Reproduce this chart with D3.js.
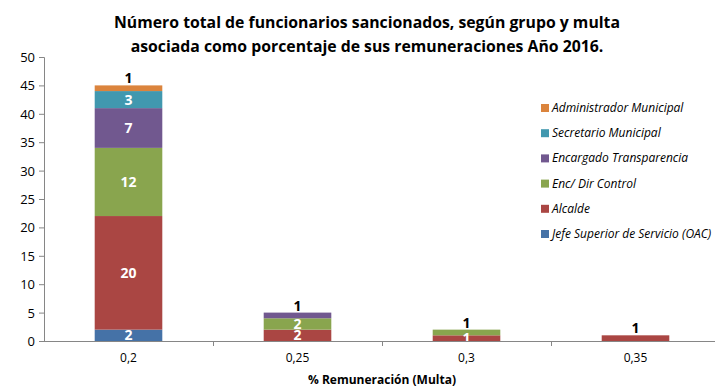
<!DOCTYPE html>
<html><head><meta charset="utf-8">
<script src="https://cdn.jsdelivr.net/npm/d3@7"></script>
<style>body{margin:0;background:#fff;}text{font-family:"Open Sans","Liberation Sans",sans-serif;}</style>
</head><body>
<svg id="c" width="715" height="388"></svg>
<script>
const categories = ["0,2", "0,25", "0,3", "0,35"];
const seriesNames = ["Jefe Superior de Servicio (OAC)", "Alcalde", "Enc/ Dir Control", "Encargado Transparencia", "Secretario Municipal", "Administrador Municipal"];
const jefe = [2, 0, 0, 0];
const alcalde = [20, 2, 1, 1];
const control = [12, 2, 1, 0];
const transparencia = [7, 1, 0, 0];
const secretario = [3, 0, 0, 0];
const administrador = [1, 0, 0, 0];
const colors = ["#4572A7", "#AA4643", "#89A54E", "#71588F", "#4198AF", "#DB843D"];
const yTicks = [0, 5, 10, 15, 20, 25, 30, 35, 40, 45, 50];
const titleLines = ["Número total de funcionarios sancionados, según grupo y multa", "asociada como porcentaje de sus remuneraciones Año 2016."];
const xTitle = "% Remuneración (Multa)";

const seriesValues = [jefe, alcalde, control, transparencia, secretario, administrador];
const rows = categories.map((c, i) => {
  const r = {cat: c};
  seriesNames.forEach((s, j) => r[s] = seriesValues[j][i]);
  return r;
});
const stack = d3.stack().keys(seriesNames)(rows);

const svg = d3.select("#c");
const x = d3.scaleBand().domain(categories).range([44, 720]).paddingInner(0.6).paddingOuter(0.3);
const y = d3.scaleLinear().domain([0, 50]).range([341, 57]);
const band = d3.scaleBand().domain(categories).range([44, 720]);

// title
svg.append("g").selectAll("text").data(titleLines).join("text")
  .attr("x", 367).attr("y", (d, i) => 28 + i * 24)
  .attr("text-anchor", "middle").attr("font-size", 15.8).attr("font-weight", "bold").attr("fill", "#000")
  .text(d => d);

// bars
const g = svg.append("g");
stack.forEach((s, j) => {
  g.selectAll(null).data(s.filter(d => d[1] > d[0])).join("rect")
    .attr("x", d => x(d.data.cat)).attr("width", x.bandwidth())
    .attr("y", d => y(d[1])).attr("height", d => y(d[0]) - y(d[1]))
    .attr("fill", colors[j]);
});

// labels
categories.forEach((c, i) => {
  let topIdx = -1;
  seriesValues.forEach((v, j) => { if (v[i] > 0) topIdx = j; });
  stack.forEach((s, j) => {
    const d = s[i];
    if (d[1] <= d[0]) return;
    const isTop = j === topIdx;
    const cx = x(c) + x.bandwidth() / 2;
    const cy = isTop ? y(d[1]) - 2 : (y(d[0]) + y(d[1])) / 2 + 5;
    svg.append("text").attr("x", cx).attr("y", cy)
      .attr("text-anchor", "middle").attr("font-size", 14).attr("font-weight", "bold")
      .attr("fill", isTop ? "#000" : "#fff").text(d[1] - d[0]);
  });
});

// y axis
const yAxis = d3.axisLeft(y).tickValues(yTicks).tickSize(5).tickFormat(d3.format("d"));
const ya = svg.append("g").attr("transform", "translate(44,0)").call(yAxis);
ya.select(".domain").attr("stroke", "#868686");
ya.selectAll(".tick line").attr("stroke", "#868686");
ya.selectAll(".tick text").attr("font-size", 13).attr("fill", "#000").attr("x", -9).attr("dy", "0.35em")
  .style("font-family", "'Open Sans','Liberation Sans',sans-serif");

// x axis
svg.append("line").attr("x1", 44).attr("x2", 715).attr("y1", 341.5).attr("y2", 341.5).attr("stroke", "#868686");
const bounds = categories.slice(1).map(c => band(c));
svg.selectAll(null).data(bounds).join("line")
  .attr("x1", d => d + 0.5).attr("x2", d => d + 0.5).attr("y1", 341).attr("y2", 346).attr("stroke", "#868686");
svg.selectAll(null).data(categories).join("text")
  .attr("x", d => band(d) + band.bandwidth() / 2).attr("y", 362)
  .attr("text-anchor", "middle").attr("font-size", 12).attr("fill", "#000").text(d => d);
svg.append("text").attr("x", 382).attr("y", 384).attr("text-anchor", "middle")
  .attr("font-size", 12).attr("font-weight", "bold").text(xTitle);

// legend (reverse order)
const legendOrder = seriesNames.map((s, j) => j).reverse();
const lg = svg.append("g");
legendOrder.forEach((j, k) => {
  const ly = 108 + k * 25.2;
  lg.append("rect").attr("x", 541).attr("y", ly - 4).attr("width", 8).attr("height", 8).attr("fill", colors[j]);
  lg.append("text").attr("x", 552).attr("y", ly + 4).attr("font-size", 12).attr("font-style", "italic")
    .attr("fill", "#000").text(seriesNames[j]);
});
</script>
</body></html>
